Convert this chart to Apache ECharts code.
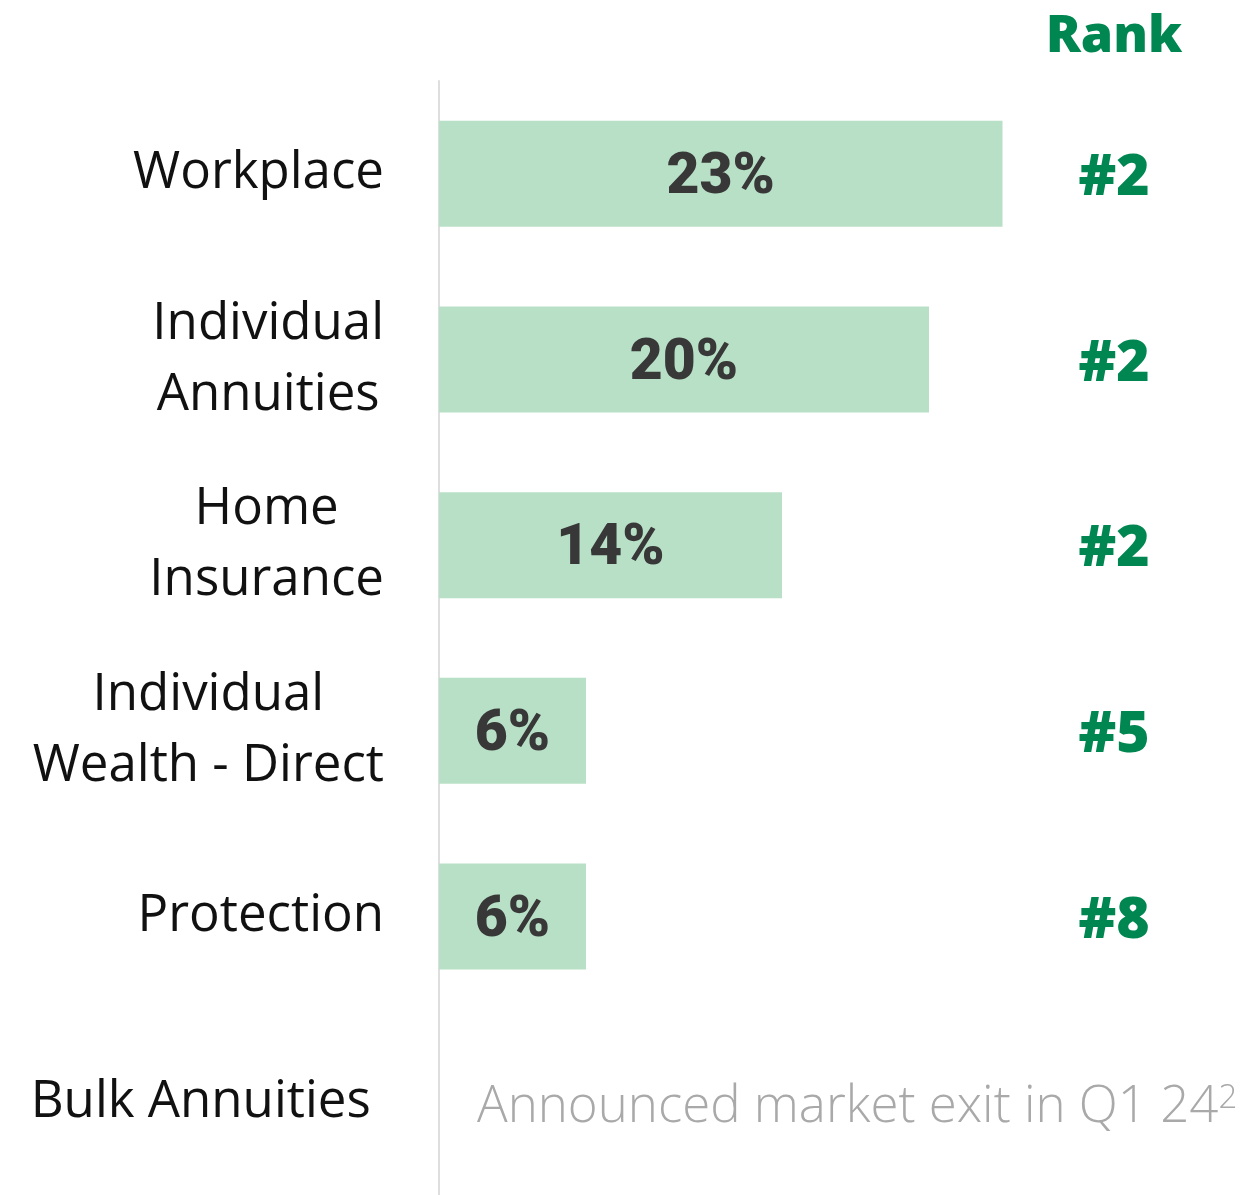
<!DOCTYPE html>
<html>
<head>
<meta charset="utf-8">
<script src="https://cdn.jsdelivr.net/npm/echarts@6/dist/echarts.min.js"></script>
<style>
  html, body { margin: 0; padding: 0; background: #ffffff; }
  #chart { width: 1241px; height: 1195px; }
</style>
</head>
<body>
<div id="chart"></div>
<script>
// Business lines, their share (%) and market rank
const categories = ['Workplace', 'Individual\nAnnuities', 'Home\nInsurance', 'Individual\nWealth - Direct', 'Protection', 'Bulk Annuities '];
const shares = [23, 20, 14, 6, 6, 0];
const ranks = ['#2', '#2', '#2', '#5', '#8', ''];
const exitNote = 'Announced market exit in Q1 24';
const exitNoteRef = '2';

const GREEN = '#008751';
const BAR = '#b8e0c6';
const FONT = '"Open Sans", sans-serif';
const NUM_FONT = 'Roboto, sans-serif';

const xMax = 24;
const pxPerUnit = 24.5;
const gridLeft = 439;
const gridWidth = xMax * pxPerUnit;
const rankCenter = 1114;

const chart = echarts.init(document.getElementById('chart'), null, { renderer: 'canvas' });

const barData = shares.map((v, i) => {
  if (i === shares.length - 1) {
    return {
      value: v,
      label: {
        position: 'right',
        distance: 38,
        formatter: '{n|' + exitNote + '}{s|' + exitNoteRef + '}',
        rich: {
          n: { fontSize: 51, color: '#a9a9a9', fontFamily: FONT, fontWeight: 300 },
          s: { fontSize: 33, color: '#a9a9a9', fontFamily: FONT, fontWeight: 300, verticalAlign: 'top' }
        }
      }
    };
  }
  return v;
});

chart.setOption({
  animation: false,
  backgroundColor: '#ffffff',
  title: {
    text: 'Rank',
    left: rankCenter - 5,
    textAlign: 'center',
    top: 6,
    textStyle: { fontSize: 52, fontWeight: 800, color: GREEN, fontFamily: FONT }
  },
  grid: { left: gridLeft, top: 81, width: gridWidth, height: 1116 },
  xAxis: {
    type: 'value',
    min: 0,
    max: xMax,
    show: false
  },
  yAxis: [
    {
      type: 'category',
      data: categories,
      inverse: true,
      axisLine: { show: true, lineStyle: { color: '#dedede', width: 2 } },
      axisTick: { show: false },
      axisLabel: {
        margin: 55,
        formatter: (v) => '{c|' + v + '}',
        rich: {
          c: { align: 'center', fontSize: 51, lineHeight: 71, color: '#111111', fontFamily: FONT }
        }
      }
    },
    {
      type: 'category',
      data: ranks,
      inverse: true,
      position: 'right',
      axisLine: { show: false },
      axisTick: { show: false },
      axisLabel: {
        margin: rankCenter - (gridLeft + gridWidth),
        align: 'center',
        formatter: (v) => '{r|' + v + '}',
        rich: {
          r: { fontSize: 57, fontWeight: 900, color: GREEN, fontFamily: FONT, padding: [10, 0, 0, 0] }
        }
      }
    }
  ],
  series: [
    {
      type: 'bar',
      yAxisIndex: 0,
      data: barData,
      barWidth: 106,
      itemStyle: { color: BAR },
      label: {
        show: true,
        position: 'inside',
        offset: [0, 5],
        formatter: '{c}%',
        fontSize: 57,
        fontWeight: 900,
        color: '#383838',
        fontFamily: NUM_FONT
      }
    }
  ]
});
</script>
</body>
</html>
